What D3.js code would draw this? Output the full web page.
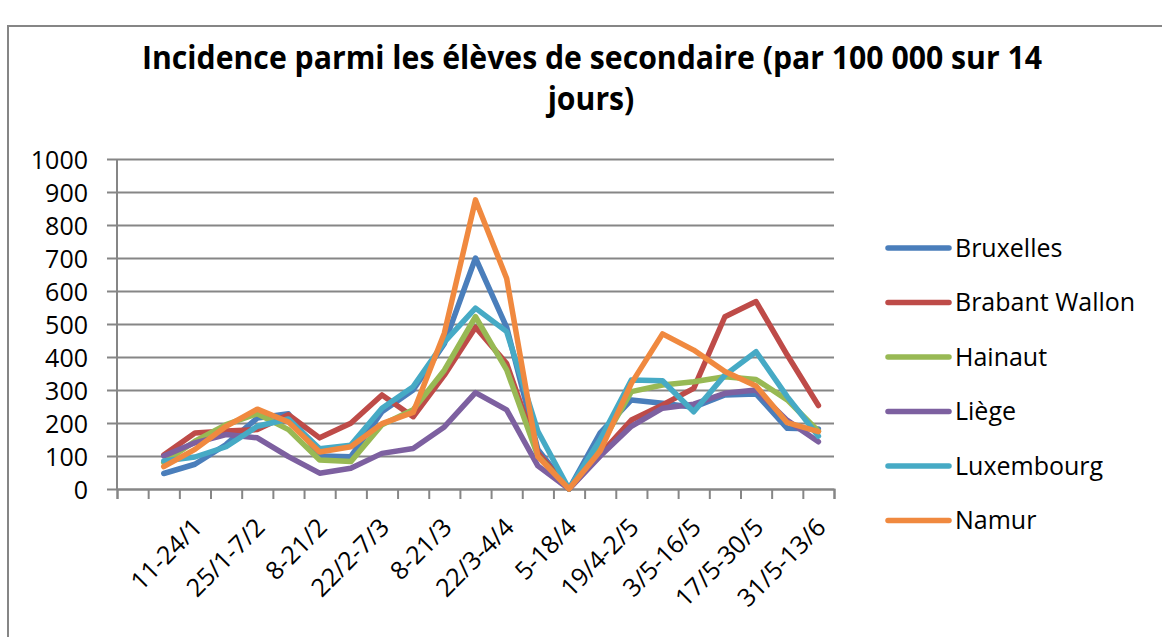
<!DOCTYPE html>
<html>
<head>
<meta charset="utf-8">
<script src="https://cdn.jsdelivr.net/npm/d3@7"></script>
<style>
  body { margin: 0; background: #fff; }
  svg { display: block; font-family: 'Open Sans', sans-serif; }
</style>
</head>
<body>
<script>
// two-week windows, one every week (first slot has no data)
const categories = ['', '4-17/1', '11-24/1', '18-31/1', '25/1-7/2', '1-14/2', '8-21/2', '15-28/2',
  '22/2-7/3', '1-14/3', '8-21/3', '15-28/3', '22/3-4/4', '29/3-11/4', '5-18/4', '12-25/4',
  '19/4-2/5', '26/4-9/5', '3/5-16/5', '10-23/5', '17/5-30/5', '24/5-6/6', '31/5-13/6']

const regions = ['Bruxelles', 'Brabant Wallon', 'Hainaut', 'Liège', 'Luxembourg', 'Namur']
const colors = ['#4A7EBB', '#BE4B48', '#98B954', '#7D60A0', '#46AAC5', '#F0893F']

const bruxelles = [null, 47, 75, 135, 215, 228, 100, 98, 234, 300, 440, 700, 490, 120, 0, 170, 270, 260, 248, 285, 288, 184, 182]
const brabantWallon = [null, 103, 170, 176, 180, 225, 155, 199, 285, 219, 345, 490, 380, 110, 0, 105, 209, 255, 305, 522, 568, 406, 253]
const hainaut = [null, 80, 145, 195, 228, 180, 88, 83, 195, 240, 360, 522, 361, 100, 0, 130, 295, 315, 325, 340, 332, 270, 175]
const liege = [null, 100, 140, 165, 155, 98, 48, 63, 108, 123, 188, 292, 240, 70, 0, 100, 190, 245, 257, 290, 300, 208, 143]
const luxembourg = [null, 85, 97, 128, 190, 212, 122, 133, 245, 310, 445, 548, 477, 175, 0, 150, 330, 328, 234, 345, 416, 280, 160]
const namur = [null, 68, 120, 190, 242, 203, 112, 128, 198, 232, 472, 876, 638, 98, 0, 115, 320, 470, 421, 356, 312, 201, 174]

const yTicks = d3.range(0, 1001, 100)
const titleLines = ['Incidence parmi les élèves de secondaire (par 100 000 sur 14', 'jours)']

const series = [bruxelles, brabantWallon, hainaut, liege, luxembourg, namur]

const svg = d3.select('body').append('svg')
  .attr('width', 1162)
  .attr('height', 637)

const x = d3.scaleBand().domain(d3.range(categories.length)).range([117, 834]).padding(0)
const y = d3.scaleLinear().domain([0, 1000]).range([489, 159])

drawFrame()
drawTitle()
drawAxes()
drawLines()
drawLegend()

/**
 * Grey border of the chart area.
 */
function drawFrame () {
  svg.append('rect')
    .attr('x', 8)
    .attr('y', 26)
    .attr('width', 1200)
    .attr('height', 700)
    .attr('fill', 'none')
    .attr('stroke', '#868686')
    .attr('stroke-width', 2)
}

/**
 * Two line title, squeezed to the width of the original.
 */
function drawTitle () {
  const t1 = svg.append('text')
    .attr('x', 592)
    .attr('y', 69)
    .attr('text-anchor', 'middle')
    .style('font-size', '33px')
    .style('font-weight', 'bold')
    .text(titleLines[0])
  const w1 = t1.node().getComputedTextLength()
  const k = 900 / w1
  t1.attr('textLength', 900).attr('lengthAdjust', 'spacingAndGlyphs')

  const t2 = svg.append('text')
    .attr('x', 591)
    .attr('y', 110)
    .attr('text-anchor', 'middle')
    .style('font-size', '33px')
    .style('font-weight', 'bold')
    .text(titleLines[1])
  const w2 = t2.node().getComputedTextLength()
  t2.attr('textLength', w2 * k).attr('lengthAdjust', 'spacingAndGlyphs')
}

/**
 * Gridlines, value axis and category axis.
 */
function drawAxes () {
  const left = 107
  const right = 834

  const gy = svg.append('g')
    .attr('transform', `translate(${right},0)`)
    .call(d3.axisLeft(y).tickValues(yTicks).tickFormat(d3.format('d')).tickSize(right - left).tickPadding(19))
  gy.select('.domain').remove()
  gy.selectAll('line').attr('stroke', '#868686').attr('stroke-width', 2)
  gy.selectAll('text')
    .attr('dy', '0.36em')
    .attr('fill', '#000')
    .style('font-size', '25px')
    .style('font-family', "'Open Sans', sans-serif")

  // value axis line
  svg.append('line')
    .attr('x1', 117).attr('x2', 117)
    .attr('y1', y(1000)).attr('y2', y(0))
    .attr('stroke', '#868686')
    .attr('stroke-width', 2)

  // tick marks between categories
  const edge = d3.scaleLinear().domain([0, categories.length]).range(x.range())
  const gx = svg.append('g')
    .attr('transform', `translate(0,${y(0)})`)
    .call(d3.axisBottom(edge).tickValues(d3.range(categories.length + 1)).tickSize(10).tickFormat(''))
  gx.selectAll('line').attr('stroke', '#868686').attr('stroke-width', 2)
  gx.select('.domain').attr('stroke', '#868686').attr('stroke-width', 2)

  svg.append('g')
    .selectAll('text')
    .data(categories.map((c, i) => ({ c, i })).filter(d => d.i % 2 === 0 && d.c !== ''))
    .join('text')
    .attr('transform', d => `translate(${x(d.i) + x.bandwidth() / 2 + 9},529) rotate(-45)`)
    .attr('text-anchor', 'end')
    .style('font-size', '25px')
    .text(d => d.c)
}

/**
 * One line per province.
 */
function drawLines () {
  const line = d3.line()
    .defined(d => d != null)
    .x((d, i) => x(i) + x.bandwidth() / 2)
    .y(d => y(d))

  svg.append('g')
    .selectAll('path')
    .data(series)
    .join('path')
    .attr('d', d => line(d))
    .attr('fill', 'none')
    .attr('stroke', (d, i) => colors[i])
    .attr('stroke-width', 5.5)
    .attr('stroke-linejoin', 'round')
    .attr('stroke-linecap', 'round')
}

/**
 * Legend on the right.
 */
function drawLegend () {
  const g = svg.append('g')
  const item = g.selectAll('g')
    .data(regions)
    .join('g')
    .attr('transform', (d, i) => `translate(888,${248 + i * 54.5})`)

  item.append('line')
    .attr('x1', 0)
    .attr('x2', 61)
    .attr('stroke', (d, i) => colors[i])
    .attr('stroke-width', 5.5)
    .attr('stroke-linecap', 'round')

  item.append('text')
    .attr('x', 67)
    .attr('y', 8.5)
    .style('font-size', '25px')
    .text(d => d)
}
</script>
</body>
</html>
